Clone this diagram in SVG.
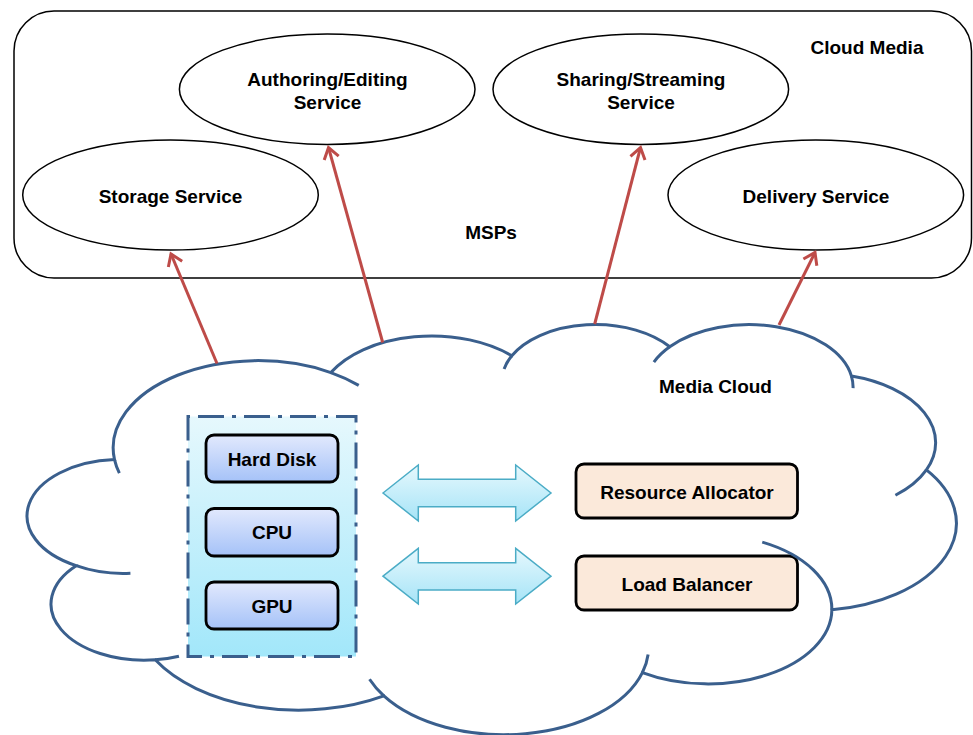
<svg xmlns="http://www.w3.org/2000/svg" width="973" height="735" viewBox="0 0 973 735">
  <defs>
    <style>
      .lbl { font-family: "Liberation Sans", Arial, sans-serif; font-weight: bold; font-size: 19px; fill: #000; text-anchor: middle; }
      .svc { fill: #fff; stroke: #000; stroke-width: 1.5; }
      .chip { fill: url(#chipGrad); stroke: #000; stroke-width: 2.8; }
      .ctrl { fill: #fbe9da; stroke: #000; stroke-width: 2.8; }
      .cloud { fill: none; stroke: #3a5f8d; stroke-width: 3; vector-effect: non-scaling-stroke; }
      .link { fill: none; stroke: #be4b48; stroke-width: 3; marker-end: url(#vhead); }
      .dbl { fill: url(#dblGrad); stroke: #4bacc6; stroke-width: 1.5; stroke-linejoin: miter; }
    </style>
    <linearGradient id="poolGrad" x1="0" y1="0" x2="0" y2="1">
      <stop offset="0" stop-color="#e6f8fd"/>
      <stop offset="1" stop-color="#a2e7fa"/>
    </linearGradient>
    <linearGradient id="chipGrad" x1="0" y1="0" x2="0" y2="1">
      <stop offset="0" stop-color="#e2e9fd"/>
      <stop offset="1" stop-color="#a5c2f8"/>
    </linearGradient>
    <linearGradient id="dblGrad" x1="0" y1="0" x2="0" y2="1">
      <stop offset="0" stop-color="#e6f8fd"/>
      <stop offset="1" stop-color="#a6e4f7"/>
    </linearGradient>
    <marker id="vhead" markerUnits="userSpaceOnUse" markerWidth="30" markerHeight="30" viewBox="-15 -15 30 30" refX="0" refY="0" orient="auto">
      <path d="M -11 -7.5 L 0 0 L -11 7.5" fill="none" stroke="#be4b48" stroke-width="3"/>
    </marker>
  </defs>

  <rect width="973" height="735" fill="#fff"/>

  <!-- Cloud Media provider frame -->
  <g id="cloud-media">
    <rect x="14" y="11" width="957.5" height="267" rx="40" ry="40" fill="#fff" stroke="#000" stroke-width="1.5"/>
    <text class="lbl" x="867" y="54">Cloud Media</text>
    <text class="lbl" x="491" y="238.5">MSPs</text>
  </g>

  <g id="authoring-service">
    <ellipse class="svc" cx="327.2" cy="89.2" rx="147.8" ry="55.2"/>
    <text class="lbl" x="327.5" y="85.5">Authoring/Editing</text>
    <text class="lbl" x="327.5" y="108.5">Service</text>
  </g>

  <g id="sharing-service">
    <ellipse class="svc" cx="640.8" cy="89.2" rx="147.8" ry="55.2"/>
    <text class="lbl" x="641" y="85.5">Sharing/Streaming</text>
    <text class="lbl" x="641" y="108.5">Service</text>
  </g>

  <g id="storage-service">
    <ellipse class="svc" cx="170.5" cy="195" rx="147.8" ry="55"/>
    <text class="lbl" x="170.5" y="202.5">Storage Service</text>
  </g>

  <g id="delivery-service">
    <ellipse class="svc" cx="815.8" cy="195" rx="147.8" ry="55"/>
    <text class="lbl" x="816" y="202.5">Delivery Service</text>
  </g>

  <!-- Hardware resource pool -->
  <g id="hardware-pool">
    <rect x="188" y="416.5" width="168" height="240" fill="url(#poolGrad)" stroke="#3a5f8d" stroke-width="3" stroke-dasharray="26 8 4 8" stroke-dashoffset="36"/>
  </g>
  <g id="hard-disk">
    <rect class="chip" x="206" y="435" width="132" height="47" rx="8" ry="8"/>
    <text class="lbl" x="272" y="465.5">Hard Disk</text>
  </g>
  <g id="cpu">
    <rect class="chip" x="206" y="508.5" width="132" height="47.5" rx="8" ry="8"/>
    <text class="lbl" x="272" y="539">CPU</text>
  </g>
  <g id="gpu">
    <rect class="chip" x="206" y="582" width="132" height="47" rx="8" ry="8"/>
    <text class="lbl" x="272" y="612.5">GPU</text>
  </g>

  <g id="resource-allocator">
    <rect class="ctrl" x="576" y="464" width="221.5" height="54" rx="8" ry="8"/>
    <text class="lbl" x="687" y="498.5">Resource Allocator</text>
  </g>
  <g id="load-balancer">
    <rect class="ctrl" x="576" y="556" width="221.5" height="54" rx="8" ry="8"/>
    <text class="lbl" x="687" y="590.5">Load Balancer</text>
  </g>

  <!-- Media Cloud outline: lobes plus inner hook arcs -->
  <g id="media-cloud">
    <g transform="translate(31 323.2) scale(0.021412 0.0094907)">
      <path class="cloud" d="M 3900 14370
        A 6753 9190 0 0 1 14003.7 5200.6
        A 5333 7267 0 0 1 22454.5 3430.8
        A 4365 5945 0 0 1 29831.4 2479.2
        A 4857 6595 0 0 1 38316.9 5573.8
        A 5333 7273 0 0 1 41817.3 15457.7
        A 6775 9220 0 0 1 37402.8 30200.2
        A 5785 7867 0 0 1 28554.1 36810.1
        A 6752 9215 0 0 1 16479 39262.1
        A 7720 10543 0 0 1 5802 35468.1
        A 4360 5918 0 0 1 2110.8 25546.1
        A 4345 5945 0 0 1 3900 14370 Z"/>
      <path class="cloud" d="M 4643.6 26342.8 A 4345 5945 0 0 1 2110.8 25546.1
        M 6910.3 35086.7 A 4360 5918 0 0 1 5802 35468.1
        M 16479 39262.1 A 6752 9215 0 0 1 15810.8 37521.5
        M 28820.7 34901 A 6752 9215 0 0 1 28554.1 36810.1
        M 34151.3 23064.5 A 5785 7867 0 0 1 37402.8 30200.2
        M 41817.3 15457.7 A 5333 7273 0 0 1 40370.6 18132.1
        M 38316.9 5573.8 A 4857 6595 0 0 1 38393.3 6837.6
        M 29090.1 4090.2 A 4857 6595 0 0 1 29831.4 2479.2
        M 22095.2 4820.9 A 4365 5945 0 0 1 22454.5 3430.8
        M 14003.7 5200.6 A 6753 9190 0 0 1 15306 6551.6
        M 4127 15788.9 A 6753 9190 0 0 1 3900 14370"/>
    </g>
    <text class="lbl" x="715.5" y="393">Media Cloud</text>
  </g>

  <!-- Connectors -->
  <g id="connectors">
    <line class="link" x1="217" y1="363.5" x2="171" y2="254"/>
    <line class="link" x1="382.7" y1="342.5" x2="328.5" y2="147.5"/>
    <line class="link" x1="594.7" y1="324" x2="640.5" y2="147.5"/>
    <line class="link" x1="779" y1="325" x2="815" y2="252.5"/>
    <polygon class="dbl" points="383,493 418.3,465 418.3,479.3 515.7,479.3 515.7,465 551,493 515.7,521 515.7,506.7 418.3,506.7 418.3,521"/>
    <polygon class="dbl" points="383,576.2 418.3,548.3 418.3,562.7 515.7,562.7 515.7,548.3 551,576.2 515.7,604 515.7,590 418.3,590 418.3,604"/>
  </g>
</svg>
